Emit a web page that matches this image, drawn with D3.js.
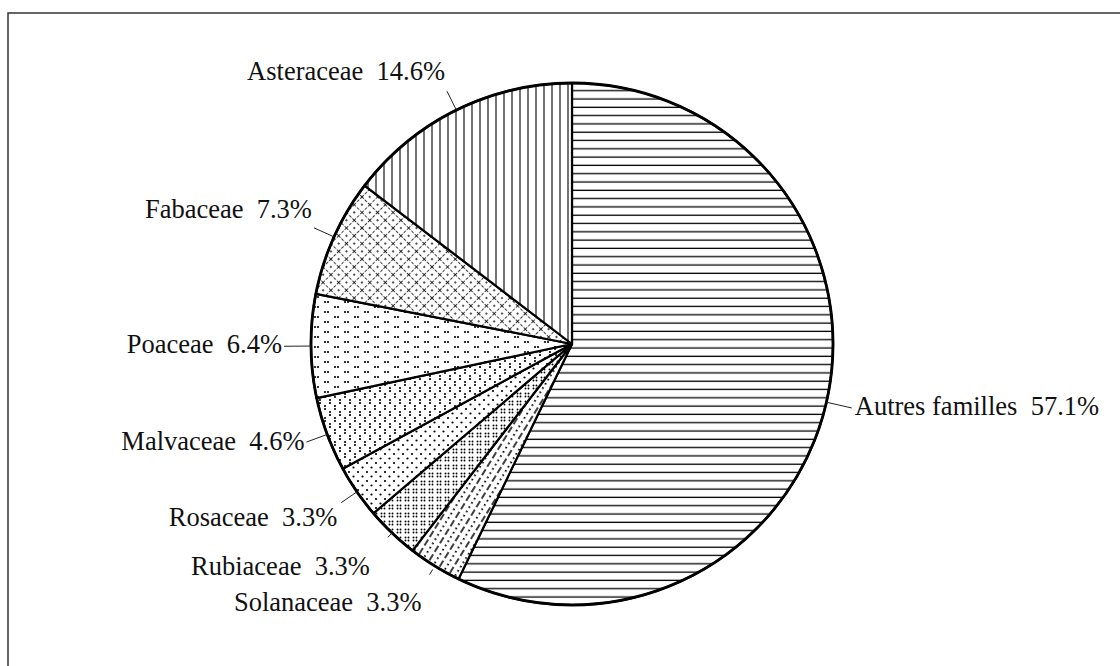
<!DOCTYPE html>
<html lang="fr">
<head>
<meta charset="UTF-8">
<title>Familles</title>
<script src="https://d3js.org/d3.v7.min.js"></script>
<style>
  body { margin: 0; background: #fff; }
  text { font-family: "Liberation Serif", "Times New Roman", serif; font-size: 26.5px; fill: #111; white-space: pre; }
</style>
</head>
<body>
<svg id="main" width="1120" height="666"></svg>
<script>
// data (percent of species)
const families = ["Autres familles", "Solanaceae", "Rubiaceae", "Rosaceae",
                  "Malvaceae", "Poaceae", "Fabaceae", "Asteraceae"];
const shares = [57.1, 3.3, 3.3, 3.3, 4.6, 6.4, 7.3, 14.6];

// layout: leader length and label offset from leader end
const leaderLen = [26, 10, 6, 19, 22, 27, 22, 21];
const labelDx = [3, -8, -18, -4, -2, -2, -2, -2];
const labelDy = [7, 36, 38, 23, 8, 7, -10, -11];

const cx = 572, cy = 344, r = 261;

const svg = d3.select("svg#main");
const defs = svg.append("defs");

// frame (top and left edges only)
svg.append("path")
    .attr("d", "M8,666 L8,13 L1120,13")
    .attr("fill", "none").attr("stroke", "#333").attr("stroke-width", 1.5);

const pie = d3.pie().sort(null).value(d => d);
const arcs = pie(shares);

// fill patterns, one per slice
function pat(id, w, h, transform) {
    let p = defs.append("pattern").attr("id", id)
        .attr("patternUnits", "userSpaceOnUse")
        .attr("width", w).attr("height", h);
    if (transform) p.attr("patternTransform", transform);
    p.append("rect").attr("width", w).attr("height", h).attr("fill", "#fff");
    return p;
}
function dot(p, x, y, rr) {
    p.append("circle").attr("cx", x).attr("cy", y).attr("r", rr || 0.9).attr("fill", "#000");
}

// horizontal lines
let p0 = pat("p0", 10, 8.3);
p0.append("line").attr("x1", 0).attr("x2", 10).attr("y1", 4).attr("y2", 4)
    .attr("stroke", "#000").attr("stroke-width", 1.3);

// dash / dot lines along the slice direction
let solMid = (arcs[1].startAngle + arcs[1].endAngle) / 2 * 180 / Math.PI;
let p1 = pat("p1", 20, 12, `rotate(${solMid - 90} ${cx} ${cy}) translate(${cx} ${cy})`);
p1.append("line").attr("x1", 0).attr("x2", 20).attr("y1", 3).attr("y2", 3)
    .attr("stroke", "#000").attr("stroke-width", 1.6).attr("stroke-dasharray", "7,3");
p1.append("line").attr("x1", 0).attr("x2", 20).attr("y1", 9).attr("y2", 9)
    .attr("stroke", "#000").attr("stroke-width", 1.8).attr("stroke-dasharray", "1.5,3.5");

// dense dot clusters
let p2 = pat("p2", 8, 8);
[[1.5, 1.5], [4.5, 1.5], [1.5, 4.5], [4.5, 4.5]].forEach(d => dot(p2, d[0], d[1], 0.95));

// sparse dots
let p3 = pat("p3", 9, 9);
dot(p3, 2, 2, 1.1); dot(p3, 6.5, 6.5, 1.1);

// vertical pairs
let p4 = pat("p4", 10, 12);
dot(p4, 3, 2, 1.05); dot(p4, 3, 5, 1.05);
dot(p4, 8, 8, 1.05); dot(p4, 8, 11, 1.05);

// horizontal pairs
let p5 = pat("p5", 20, 10);
dot(p5, 3, 3, 1.1); dot(p5, 6, 3, 1.1);
dot(p5, 13, 8, 1.1); dot(p5, 16, 8, 1.1);

// dashed cross-hatch with dots
let p6 = pat("p6", 11, 11, "rotate(45)");
p6.append("line").attr("x1", 0).attr("x2", 11).attr("y1", 0.5).attr("y2", 0.5)
    .attr("stroke", "#000").attr("stroke-width", 0.8).attr("stroke-dasharray", "3,1.5");
p6.append("line").attr("x1", 0.5).attr("x2", 0.5).attr("y1", 0).attr("y2", 11)
    .attr("stroke", "#000").attr("stroke-width", 0.8).attr("stroke-dasharray", "3,1.5");
dot(p6, 6, 6, 0.9);

// vertical lines
let p7 = pat("p7", 8, 10);
p7.append("line").attr("x1", 4).attr("x2", 4).attr("y1", 0).attr("y2", 10)
    .attr("stroke", "#000").attr("stroke-width", 1.1);

const arc = d3.arc().innerRadius(0).outerRadius(r);
const g = svg.append("g").attr("transform", `translate(${cx},${cy})`);

g.selectAll("path.slice")
    .data(arcs)
    .enter()
    .append("path")
    .attr("class", "slice")
    .attr("d", arc)
    .attr("fill", (d, i) => `url(#p${i})`)
    .attr("stroke", "#000")
    .attr("stroke-width", 2.2)
    .attr("stroke-linejoin", "round");

g.append("circle").attr("r", r).attr("fill", "none")
    .attr("stroke", "#000").attr("stroke-width", 2.8);

// leaders and labels
function pt(a, rad) { return [rad * Math.sin(a), -rad * Math.cos(a)]; }

arcs.forEach((d, i) => {
    let a = (d.startAngle + d.endAngle) / 2;
    let inner = i === 1 ? r + 4 : r;
    let p1 = pt(a, inner), p2 = pt(a, r + leaderLen[i]);
    g.append("line")
        .attr("x1", p1[0]).attr("y1", p1[1]).attr("x2", p2[0]).attr("y2", p2[1])
        .attr("stroke", "#222").attr("stroke-width", 1);
    g.append("text")
        .attr("x", p2[0] + labelDx[i])
        .attr("y", p2[1] + labelDy[i])
        .attr("text-anchor", i === 0 ? "start" : "end")
        .text(families[i] + "  " + shares[i].toFixed(1) + "%");
});
</script>
</body>
</html>
